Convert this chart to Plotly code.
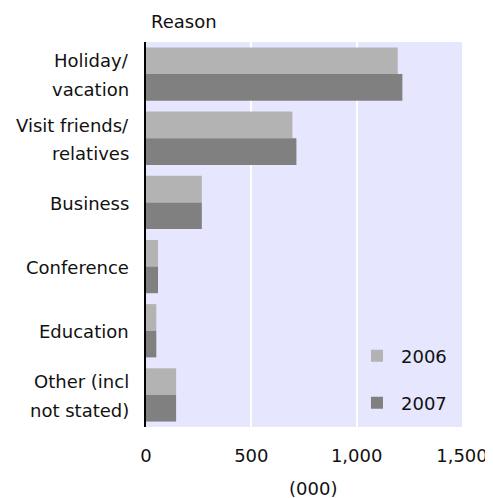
import plotly.graph_objects as go

categories = ["Holiday/\nvacation", "Visit friends/\nrelatives", "Business",
              "Conference", "Education", "Other (incl\nnot stated)"]
values_2006 = [1195, 695, 265, 57, 49, 143]
values_2007 = [1217, 714, 265, 57, 49, 143]
series_names = ["2006", "2007"]
x_ticks = [0, 500, 1000, 1500]
x_ticklabels = ["0", "500", "1,000", "1,500"]

FONT = "DejaVu Sans"
TXT = "#111111"

fig = go.Figure()
fig.add_trace(go.Bar(y=categories, x=values_2006, name=series_names[0], orientation="h",
                     marker=dict(color="#b3b3b3", line=dict(width=0)),
                     legend="legend", showlegend=True))
fig.add_trace(go.Bar(y=categories, x=values_2007, name=series_names[1], orientation="h",
                     marker=dict(color="#808080", line=dict(width=0)),
                     legend="legend2", showlegend=True))

annotations = []
for cat in categories:
    lines = cat.split("\n")
    n = len(lines)
    for i, ln in enumerate(lines):
        shift = (i - (n - 1) / 2) * 28.5
        annotations.append(dict(text=ln, xref="paper", yref="y", x=0, y=cat,
                                xanchor="right", yanchor="middle", xshift=-15,
                                yshift=-shift - 1, showarrow=False,
                                font=dict(family=FONT, size=18, color=TXT)))
annotations.append(dict(text="Reason", xref="paper", yref="paper", x=0, y=1.0545,
                        xanchor="left", yanchor="middle", xshift=3, showarrow=False,
                        font=dict(family=FONT, size=18, color=TXT)))
annotations.append(dict(text="(000)", xref="paper", yref="paper", x=0.53, y=-0.159,
                        xanchor="center", yanchor="middle", showarrow=False,
                        font=dict(family=FONT, size=18, color=TXT)))

# the page body adds an 8px offset, so the figure is 8px smaller with 8px less top/left margin
legend_style = dict(xanchor="left", yanchor="middle", itemwidth=38,
                    bgcolor="rgba(0,0,0,0)", font=dict(family=FONT, size=18, color=TXT))
fig.update_layout(
    width=485, height=490,
    margin=dict(l=138, r=31, t=34, b=71, autoexpand=False),
    paper_bgcolor="white", plot_bgcolor="#e6e6ff",
    barmode="group", bargap=0.17, bargroupgap=0,
    font=dict(family=FONT, size=18, color=TXT),
    annotations=annotations,
    legend=dict(x=0.655, y=0.184, **legend_style),
    legend2=dict(x=0.655, y=0.062, **legend_style),
)
fig.update_xaxes(range=[0, 1500], tickvals=x_ticks, ticktext=x_ticklabels,
                 showgrid=True, gridcolor="white", gridwidth=1.5, zeroline=False,
                 showline=False, ticks="", ticklabelstandoff=16, automargin=False,
                 tickfont=dict(family=FONT, size=18, color=TXT))
fig.update_yaxes(autorange="reversed", showticklabels=False, showgrid=False,
                 showline=True, linecolor="black", linewidth=2, ticks="", automargin=False)

fig.write_html("out.html")
